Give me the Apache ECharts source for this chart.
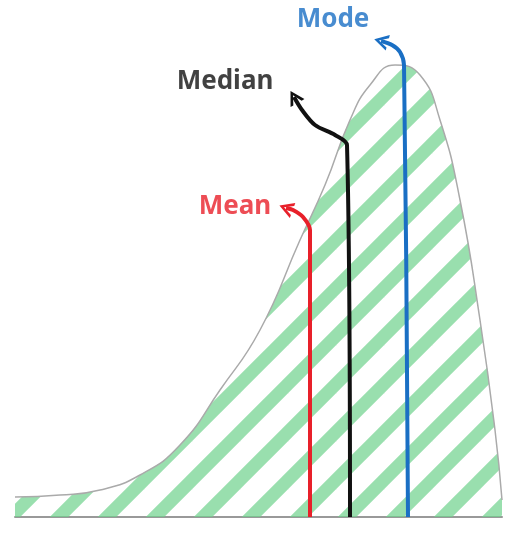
<!DOCTYPE html>
<html>
<head>
<meta charset="utf-8">
<script src="https://cdn.jsdelivr.net/npm/echarts@6/dist/echarts.min.js"></script>
<style>html,body{margin:0;padding:0;background:#fff}#main{width:522px;height:533px}</style>
</head>
<body>
<div id="main"></div>
<script>
// 分布曲线（x: 距左边界像素，y: 距基线高度）
var curveX = [0, 45, 85, 125, 165, 205, 245, 285, 310, 335, 355, 380, 405, 425, 445, 465, 480, 487];
var curveY = [20, 22, 27, 42, 72, 127, 187, 277, 332, 397, 432, 452, 442, 397, 317, 197, 87, 17];

// 三条竖线及弯曲箭头
var meanPath = [[295, 0], [295, 287], [288, 300], [278, 307], [271, 309]];
var medianPath = [[335, 0], [332, 372], [320, 382], [300, 392], [287, 407], [279, 420]];
var modePath = [[393, 0], [389, 452], [385, 465], [377, 472], [366, 476]];
var arrowRotate = [70, 30, 75];

// 标签
var labelNames = ['Mean', 'Median', 'Mode'];
var labelPos = [[220, 310], [210, 435], [318, 497]];
var labelColors = ['#e8202a', '#111111', '#1a6fc4'];

function stripes() {
  var c = document.createElement('canvas');
  c.width = 48; c.height = 48;
  var g = c.getContext('2d');
  g.strokeStyle = 'rgba(110,210,140,0.7)';
  g.lineWidth = 13;
  for (var k = -1; k <= 1; k++) {
    g.beginPath();
    g.moveTo(-10 + k * 48, 58);
    g.lineTo(58 + k * 48, -10);
    g.stroke();
  }
  return c;
}

function chart() {
  var myChart = echarts.init(document.getElementById('main'));
  window.addEventListener('resize', () => myChart.resize(), false);
  var paths = [meanPath, medianPath, modePath];
  var chevron = 'path://M0,10L5,0L10,10L8,10L5,3.5L2,10Z';
  var option = {
    animation: false,
    grid: { left: 15, right: 20, top: 0, bottom: 16 },
    xAxis: {
      type: 'value', min: 0, max: 487,
      axisLine: { show: true, onZero: false, lineStyle: { color: '#999', width: 2 } },
      axisTick: { show: false }, axisLabel: { show: false }, splitLine: { show: false }
    },
    yAxis: {
      type: 'value', min: 0, max: 517, show: false, splitLine: { show: false }
    },
    series: [
      {
        type: 'line',
        data: curveX.map((x, i) => [x, curveY[i]]),
        smooth: true,
        symbol: 'none',
        lineStyle: { color: '#aaaaaa', width: 1.5 },
        areaStyle: { color: { image: stripes(), repeat: 'repeat' }, opacity: 1 },
        z: 1
      }
    ].concat(paths.map((p, i) => ({
      type: 'line',
      data: p,
      symbol: 'none',
      smooth: 0.3,
      lineStyle: { color: labelColors[i], width: 4 },
      z: 3
    }))).concat([{
      type: 'scatter',
      symbol: chevron,
      symbolSize: [16, 14],
      data: paths.map((p, i) => ({
        value: p[p.length - 1],
        symbolRotate: arrowRotate[i],
        itemStyle: { color: labelColors[i], opacity: 1 }
      })),
      z: 4
    }, {
      type: 'scatter',
      symbolSize: 0,
      data: labelNames.map((n, i) => ({
        value: labelPos[i], name: n,
        label: { show: true, formatter: n, color: labelColors[i], fontSize: 26, fontWeight: 'bold', fontFamily: 'Noto Sans', position: 'inside' }
      })),
      z: 4
    }])
  };
  myChart.setOption(option);
}

window.onload = function () { chart(); };
</script>
</body>
</html>
